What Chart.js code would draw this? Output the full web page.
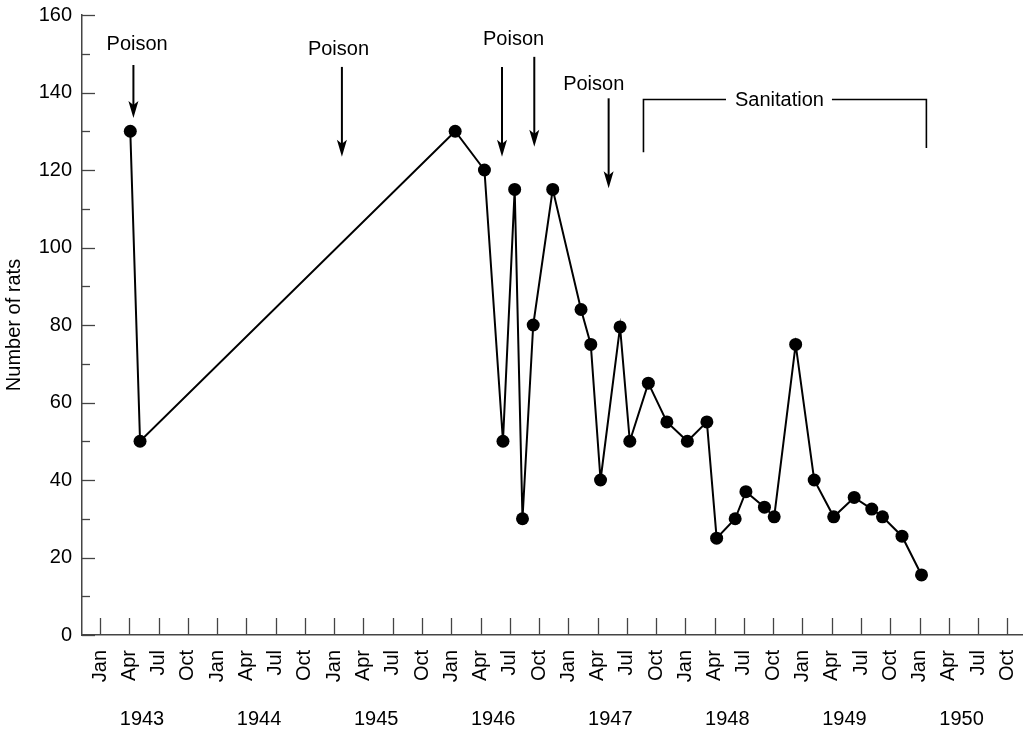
<!DOCTYPE html>
<html><head><meta charset="utf-8">
<script src="https://cdn.jsdelivr.net/npm/chart.js@4.4.1/dist/chart.umd.min.js"></script>
<style>html,body{margin:0;padding:0;background:#fff;}</style>
</head><body>
<canvas id="c" width="1024" height="730"></canvas>
<script>
// ---- data (x = months since Jan 1943) ----
const sampleMonth = [3.1, 4.1, 36.4, 39.4, 41.3, 42.5, 43.3, 44.4, 46.4, 49.3, 50.3, 51.3, 53.3, 54.3, 56.2, 58.1, 60.2, 62.2, 63.2, 65.1, 66.2, 68.1, 69.1, 71.3, 73.2, 75.2, 77.3, 79.1, 80.2, 82.2, 84.2];
const ratCount    = [130, 50, 130, 120, 50, 115, 30, 80, 115, 84, 75, 40, 79.5, 50, 65, 55, 50, 55, 25, 30, 37, 33, 30.5, 75, 40, 30.5, 35.5, 32.5, 30.5, 25.5, 15.5];
const years = ['1943','1944','1945','1946','1947','1948','1949','1950'];
const quarterNames = ['Jan','Apr','Jul','Oct'];
const yTickValues = [0,10,20,30,40,50,60,70,80,90,100,110,120,130,140,150,160];
const yLabelledStep = 20;

// annotations (data units)
const poisonLabelMonth = [3.8, 24.44, 42.39, 50.6];
const poisonLabelValue = [151.0, 149.7, 152.3, 140.6];
const arrowMonth = [3.42, 24.79, 41.2, 44.51, 52.13];
const arrowTop   = [147.1, 146.6, 146.6, 149.2, 138.5];
const arrowTip   = [133.4, 123.4, 123.4, 126.0, 115.3];
const sanitationFrom = 55.7, sanitationTo = 84.7, sanitationLevel = 138.2;
const sanitationLeftEnd = 124.6, sanitationRightEnd = 125.7, sanitationTextMonth = 69.64, sanitationTextValue = 136.5;

const FONT = '"Liberation Sans", Arial, Helvetica, sans-serif';
const xTickValues = [];
years.forEach((y,i)=>quarterNames.forEach((q,j)=>xTickValues.push(12*i+3*j)));

const annot = {
  id:'annot',
  afterDraw(chart){
    const ctx = chart.ctx, xs = chart.scales.x, ys = chart.scales.y, ca = chart.chartArea;
    ctx.save();
    // inward ticks
    ctx.strokeStyle = '#444'; ctx.lineWidth = 1.3;
    xs.ticks.forEach(t=>{
      const px = Math.round(xs.getPixelForValue(t.value))+0.5;
      ctx.beginPath(); ctx.moveTo(px, ca.bottom); ctx.lineTo(px, ca.bottom-17); ctx.stroke();
    });
    ys.ticks.forEach(t=>{
      const py = Math.round(ys.getPixelForValue(t.value))+0.5;
      const len = (t.value % yLabelledStep === 0) ? 13 : 8;
      ctx.beginPath(); ctx.moveTo(ca.left, py); ctx.lineTo(ca.left+len, py); ctx.stroke();
    });
    // year labels
    ctx.fillStyle = '#000'; ctx.font = '20px ' + FONT; ctx.textAlign='center'; ctx.textBaseline='alphabetic';
    years.forEach((y,i)=>{ ctx.fillText(y, xs.getPixelForValue(12*i+4.3), 725); });
    // poison labels
    poisonLabelMonth.forEach((m,i)=>{
      ctx.fillText('Poison', xs.getPixelForValue(m), ys.getPixelForValue(poisonLabelValue[i]));
    });
    // arrows
    ctx.strokeStyle = '#000'; ctx.lineWidth = 2;
    arrowMonth.forEach((m,i)=>{
      const x = xs.getPixelForValue(m), y0 = ys.getPixelForValue(arrowTop[i]), y1 = ys.getPixelForValue(arrowTip[i]);
      ctx.beginPath(); ctx.moveTo(x, y0); ctx.lineTo(x, y1-12); ctx.stroke();
      ctx.beginPath(); ctx.moveTo(x, y1); ctx.lineTo(x-5, y1-17); ctx.lineTo(x, y1-13); ctx.lineTo(x+5, y1-17); ctx.closePath(); ctx.fill();
    });
    // sanitation bracket
    const sx0 = xs.getPixelForValue(sanitationFrom), sx1 = xs.getPixelForValue(sanitationTo);
    const sy = ys.getPixelForValue(sanitationLevel);
    const tx = xs.getPixelForValue(sanitationTextMonth);
    const tw = ctx.measureText('Sanitation').width;
    ctx.lineWidth = 1.6;
    ctx.beginPath();
    ctx.moveTo(sx0, ys.getPixelForValue(sanitationLeftEnd)); ctx.lineTo(sx0, sy); ctx.lineTo(tx - tw/2 - 9, sy);
    ctx.moveTo(tx + tw/2 + 8, sy); ctx.lineTo(sx1, sy); ctx.lineTo(sx1, ys.getPixelForValue(sanitationRightEnd));
    ctx.stroke();
    ctx.fillText('Sanitation', tx, ys.getPixelForValue(sanitationTextValue));
    ctx.restore();
  }
};

new Chart(document.getElementById('c'), {
  type:'scatter',
  data:{ datasets:[{
    data: sampleMonth.map((m,i)=>({x:m, y:ratCount[i]})),
    showLine:true, borderColor:'#000', borderWidth:2, tension:0,
    pointRadius:6.5, pointBackgroundColor:'#000', pointBorderWidth:0, pointBorderColor:'#000'
  }]},
  options:{
    responsive:false, animation:false, devicePixelRatio:1,
    layout:{autoPadding:false, padding:{top:15, right:2, left:0, bottom:0}},
    plugins:{legend:{display:false}, tooltip:{enabled:false}},
    scales:{
      x:{
        type:'linear', min:-1.85, max:94.5,
        afterBuildTicks: s=>{ s.ticks = xTickValues.map(v=>({value:v})); },
        afterFit: s=>{ s.height = 95; s.paddingLeft = 0; s.paddingRight = 0; },
        ticks:{ autoSkip:false, minRotation:90, maxRotation:90, padding:15, color:'#000',
          font:{size:20, family:FONT},
          callback: v => quarterNames[Math.round(v/3)%4] },
        grid:{ display:true, drawOnChartArea:false, drawTicks:false },
        border:{ display:true, color:'#444', width:1.5 }
      },
      y:{
        type:'linear', min:0, max:160,
        afterBuildTicks: s=>{ s.ticks = yTickValues.map(v=>({value:v})); },
        afterFit: s=>{ s.width = 82; s.paddingTop = 0; s.paddingBottom = 0; },
        ticks:{ padding:10, color:'#000', font:{size:20, family:FONT},
          callback: v => (v % yLabelledStep === 0 ? String(v) : '') },
        grid:{ display:true, drawOnChartArea:false, drawTicks:false },
        border:{ display:true, color:'#444', width:1.5 },
        title:{ display:true, text:'Number of rats', color:'#000', font:{size:20, family:FONT}, padding:{top:2,bottom:0} }
      }
    }
  },
  plugins:[annot]
});
</script>
</body></html>
